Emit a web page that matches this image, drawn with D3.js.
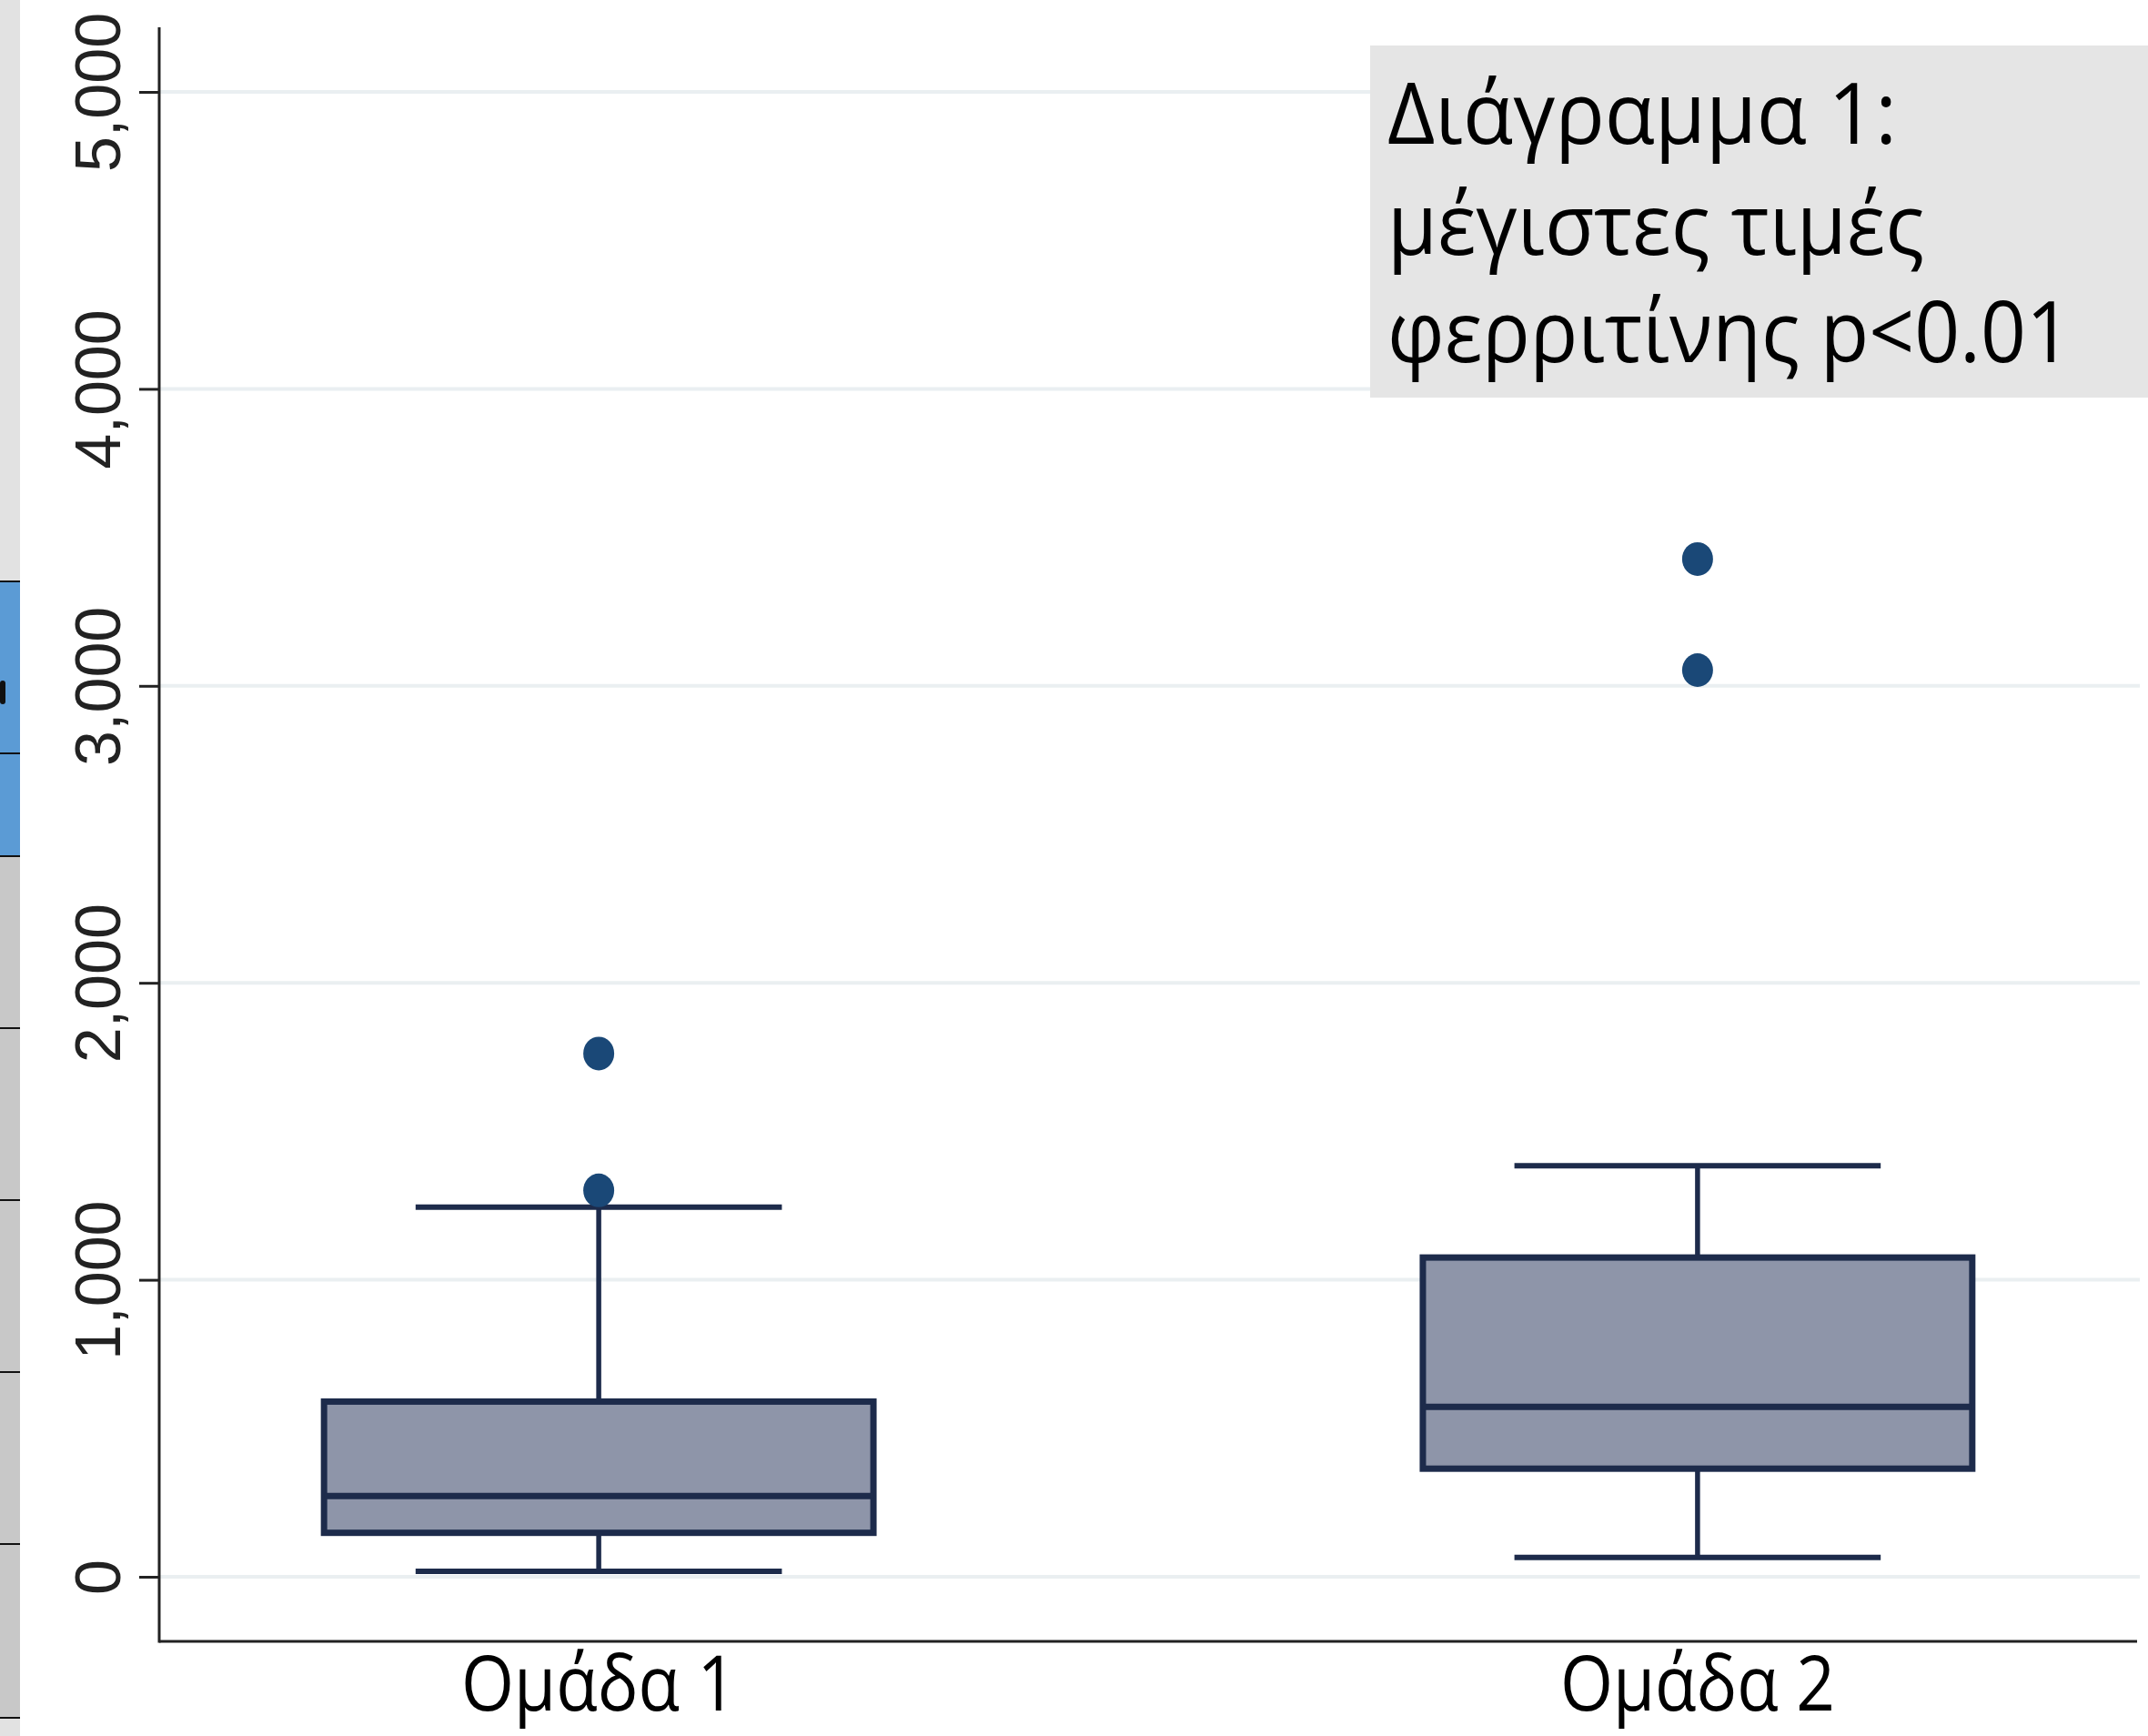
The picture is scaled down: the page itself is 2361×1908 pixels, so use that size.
<!DOCTYPE html>
<html><head><meta charset="utf-8">
<script src="https://cdn.jsdelivr.net/npm/d3@7"></script>
<style>html,body{margin:0;padding:0;background:#fff;overflow:hidden}</style>
</head><body>
<svg id="c" width="2361" height="1908"></svg>
<script>
// ---- data ----
const categories = ["Ομάδα 1", "Ομάδα 2"];
const whiskerLow = [18, 65];
const q1 = [148, 364];
const median = [272, 572];
const q3 = [590, 1075];
const whiskerHigh = [1245, 1384];
const outliers = [[1301, 1762], [3053, 3427]];
const yTicks = [0, 1000, 2000, 3000, 4000, 5000];
const noteLines = ["Διάγραμμα 1:", "μέγιστες τιμές", "φερριτίνης p<0.01"];

// ---- layout ----
const W = 2361, H = 1908;
const axisX = 175, axisY = 1804, axisTop = 30, plotRight = 2352;
const svg = d3.select("#c");
svg.append("rect").attr("width", W).attr("height", H).attr("fill", "#fff");

// background strip at the left edge (slide table behind the chart)
const strip = svg.append("g");
strip.append("rect").attr("x",0).attr("y",0).attr("width",22).attr("height",H).attr("fill","#e2e2e2");
strip.append("rect").attr("x",0).attr("y",639).attr("width",22).attr("height",302).attr("fill","#5b9bd5");
strip.append("rect").attr("x",0).attr("y",941).attr("width",22).attr("height",948).attr("fill","#c8c8c8");
[639, 828, 941, 1130, 1319, 1508, 1697, 1888].forEach(y =>
  strip.append("line").attr("x1",0).attr("x2",22).attr("y1",y).attr("y2",y).attr("stroke","#111").attr("stroke-width",2));
strip.append("rect").attr("x",0).attr("y",748).attr("width",6).attr("height",26).attr("rx",3).attr("fill","#111");

const y = d3.scaleLinear().domain([0, 5000]).range([1733, 101]);
const x = d3.scalePoint().domain(categories).range([axisX, 2349]).padding(0.4);
const step = x.step();
const boxW = step * 0.5, capW = boxW * 2 / 3;

// gridlines
svg.append("g").selectAll("line").data(yTicks).join("line")
  .attr("x1", axisX).attr("x2", plotRight)
  .attr("y1", d => y(d)).attr("y2", d => y(d))
  .attr("stroke", "#eaeff1").attr("stroke-width", 4);

// y axis
const yAxis = svg.append("g").attr("transform", `translate(${axisX},0)`)
  .call(d3.axisLeft(y).tickValues(yTicks).tickFormat(d3.format(",")).tickSizeInner(22).tickSizeOuter(0));
yAxis.select(".domain").remove();
yAxis.selectAll(".tick line").attr("stroke", "#222").attr("stroke-width", 3);
yAxis.selectAll(".tick text")
  .attr("x", null).attr("dy", null).attr("y", null)
  .attr("transform", "translate(-43,0) rotate(-90)")
  .attr("text-anchor", "middle")
  .attr("font-family", "'Liberation Sans', Arial, sans-serif")
  .attr("font-size", 70).attr("fill", "#222");

// axis lines
svg.append("line").attr("x1", axisX).attr("x2", axisX).attr("y1", axisTop).attr("y2", axisY + 1.5)
  .attr("stroke", "#222").attr("stroke-width", 3);
svg.append("line").attr("x1", axisX).attr("x2", 2349).attr("y1", axisY).attr("y2", axisY)
  .attr("stroke", "#222").attr("stroke-width", 3);

// boxes
const stroke = "#1d2b4b", fill = "#8e95a9";
const g = svg.append("g").selectAll("g").data(categories).join("g");
g.each(function(c, i) {
  const s = d3.select(this), cx = x(c);
  s.append("line").attr("x1", cx).attr("x2", cx).attr("y1", y(whiskerLow[i])).attr("y2", y(q1[i]))
    .attr("stroke", stroke).attr("stroke-width", 5.5);
  s.append("line").attr("x1", cx).attr("x2", cx).attr("y1", y(q3[i])).attr("y2", y(whiskerHigh[i]))
    .attr("stroke", stroke).attr("stroke-width", 5.5);
  s.append("line").attr("x1", cx - capW/2).attr("x2", cx + capW/2).attr("y1", y(whiskerLow[i])).attr("y2", y(whiskerLow[i]))
    .attr("stroke", stroke).attr("stroke-width", 6);
  s.append("line").attr("x1", cx - capW/2).attr("x2", cx + capW/2).attr("y1", y(whiskerHigh[i])).attr("y2", y(whiskerHigh[i]))
    .attr("stroke", stroke).attr("stroke-width", 6);
  s.append("rect").attr("x", cx - boxW/2).attr("width", boxW)
    .attr("y", y(q3[i])).attr("height", y(q1[i]) - y(q3[i]))
    .attr("fill", fill).attr("stroke", stroke).attr("stroke-width", 7);
  s.append("line").attr("x1", cx - boxW/2).attr("x2", cx + boxW/2).attr("y1", y(median[i])).attr("y2", y(median[i]))
    .attr("stroke", stroke).attr("stroke-width", 7);
  s.selectAll("ellipse").data(outliers[i]).join("ellipse")
    .attr("cx", cx).attr("cy", d => y(d)).attr("rx", 17).attr("ry", 18.5)
    .attr("fill", "#1a4877");
});

// x labels
svg.append("g").selectAll("text").data(categories).join("text")
  .attr("x", d => x(d)).attr("y", 1880).attr("text-anchor", "middle")
  .attr("font-family", "'Open Sans', 'Noto Sans', sans-serif").attr("font-size", 84)
  .attr("textLength", 302).attr("lengthAdjust", "spacingAndGlyphs")
  .attr("fill", "#000").text(d => d);

// annotation box
svg.append("rect").attr("x", 1506).attr("y", 50).attr("width", W - 1506).attr("height", 387).attr("fill", "#e5e5e5");
const noteWidths = [560, 590, 752];
const noteBase = [158, 280, 398];
svg.append("g").selectAll("text").data(noteLines).join("text")
  .attr("x", 1525).attr("y", (d, i) => noteBase[i])
  .attr("font-family", "'Open Sans', 'Noto Sans', sans-serif").attr("font-size", 94)
  .attr("textLength", (d, i) => noteWidths[i]).attr("lengthAdjust", "spacingAndGlyphs")
  .attr("fill", "#000").text(d => d);
</script>
</body></html>
